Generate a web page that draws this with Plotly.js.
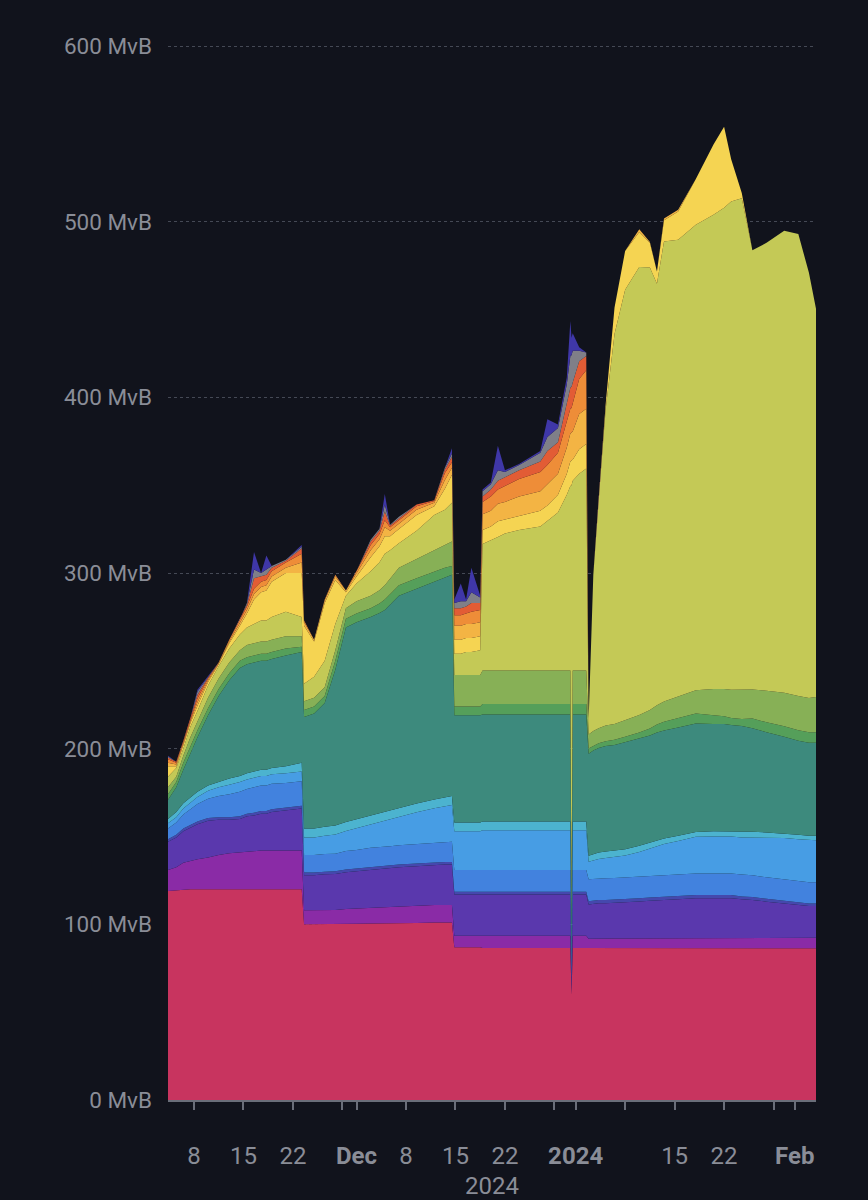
<!DOCTYPE html>
<html>
<head>
<meta charset="utf-8">
<script src="https://cdn.plot.ly/plotly-3.0.1.min.js"></script>
<style>
  html, body { margin: 0; padding: 0; background: #11131c; }
  #chart { width: 868px; height: 1200px; }
</style>
</head>
<body>
<div id="chart"></div>
<script>
// Sample times (mempool snapshots)
const dates = [
  '2023-11-04 08:00','2023-11-05 12:00','2023-11-06 12:00','2023-11-07 12:00','2023-11-08 12:00',
  '2023-11-10 00:00','2023-11-11 12:00','2023-11-13 00:00','2023-11-14 12:00','2023-11-15 12:00',
  '2023-11-16 12:00','2023-11-17 12:00','2023-11-18 06:00','2023-11-19 00:00','2023-11-21 00:00',
  '2023-11-23 06:00',
  '2023-11-23 14:00','2023-11-25 00:00','2023-11-26 12:00','2023-11-28 00:00','2023-11-29 12:00',
  '2023-12-01 00:00','2023-12-03 00:00','2023-12-04 06:00','2023-12-05 00:00','2023-12-05 18:00',
  '2023-12-07 00:00','2023-12-09 12:00','2023-12-12 00:00','2023-12-13 12:00','2023-12-14 12:00',
  '2023-12-14 20:00','2023-12-15 18:00','2023-12-16 12:00','2023-12-17 06:00','2023-12-18 12:00',
  '2023-12-18 20:00','2023-12-20 00:00','2023-12-21 00:00','2023-12-22 00:00','2023-12-24 00:00',
  '2023-12-27 00:00','2023-12-28 00:00','2023-12-29 12:00','2023-12-30 18:00','2023-12-31 06:00',
  '2023-12-31 10:00','2023-12-31 14:00','2024-01-01 12:00','2024-01-02 12:00',
  '2024-01-02 20:00','2024-01-03 12:00','2024-01-04 06:00','2024-01-05 06:00','2024-01-06 12:00',
  '2024-01-08 00:00','2024-01-10 00:00','2024-01-11 12:00','2024-01-12 12:00','2024-01-13 12:00',
  '2024-01-15 12:00','2024-01-18 00:00','2024-01-20 12:00','2024-01-22 00:00','2024-01-23 00:00',
  '2024-01-24 12:00','2024-01-26 00:00','2024-01-28 00:00','2024-01-30 12:00','2024-02-01 12:00',
  '2024-02-03 00:00','2024-02-04 00:00'
];

// Layer sizes in MvB, bottom fee band to top fee band
const crimson = [
  119,119.5,120,120,120,120,120,120,120,120,120,120,120,120,120,120,
  100,100,100,100,100.2,100.3,100.5,100.5,100.6,100.6,100.7,100.8,101,101,101,
  87,87,87,87,87,
  86.5,86.5,86.5,86.5,86.5,86.5,86.5,86.5,86.5,86.5,60,86.5,86.5,86.5,
  86.3,86.3,86.3,86.3,86.3,86.3,86.3,86.3,86.3,86.3,86.3,86.3,86.3,86.3,86.3,86.4,86.4,86.4,86.4,86.4,86.4,86.4
];
const magenta = [
  12,13,15,16,17,18,19.5,20.5,21,21.5,22,22,22,22,22,22,
  8,8,8,8.2,8.5,8.7,9,9.1,9.2,9.3,9.5,9.7,10,10,10,
  6.5,6.5,6.5,6.5,6.5,
  7,7,7,7,7,7,7,7,7,7,3,7,7,7,
  5.5,5.6,5.7,5.7,5.7,5.7,5.7,5.7,5.7,5.7,5.7,5.7,5.8,5.8,5.8,5.9,6,6,6,6,6,6
];
const deepPurple = [
  16,17,18,19,20,21,20,19,19,20,20,21,21,22,23,24,
  20,20,20.5,20.5,21,21.3,21.8,21.9,22,22.1,22.3,22.6,22.8,23,23,
  23.5,23.5,23.5,23.5,23.5,
  23.5,23.5,23.5,23.5,23.5,23.5,23.5,23.5,23.5,23.5,6,23.5,23.5,23.5,
  19.5,19.7,20,20,20.2,20.5,21,21.5,21.8,22,22.3,22.8,22.8,22.8,22.8,22,21.5,20.5,19.5,18.5,18,18
];
const indigo = [
  1.5,1.5,1.5,1.5,1.5,1.5,1.5,1.5,1.5,1.5,1.5,1.5,1.5,1.5,1.5,1.5,
  1.5,1.5,1.5,1.5,1.5,1.5,1.5,1.5,1.5,1.5,1.5,1.5,1.5,1.5,1.5,
  1.5,1.5,1.5,1.5,1.5,
  1.5,1.5,1.5,1.5,1.5,1.5,1.5,1.5,1.5,1.5,1,1.5,1.5,1.5,
  1.8,1.8,1.8,1.8,1.8,1.8,1.8,1.8,1.8,1.8,1.9,1.9,1.8,1.8,1.8,1.6,1.6,1.6,1.5,1.5,1.5,1.5
];
const blue = [
  6,7,8,9,10,11,12,13,14,14,14.5,14.5,14.5,14.5,14,14,
  10,10,10,10,10.5,10.5,10.8,10.9,11,11,11,11.2,11.3,11.4,11.5,
  12.5,12.5,12.5,12.5,12.5,
  12.5,12.5,12.5,12.5,12.5,12.5,12.5,12.5,12.5,12.5,4,12.5,12.5,12.5,
  12.5,12.4,12.4,12.4,12.4,12.4,12.4,12.4,12.4,12.4,12.3,12.3,12.3,12.3,12.3,12.5,12.4,12.3,12.2,12,12,12
];
const lightBlue = [
  3,3,3.5,4,4,4.5,5,5.5,5.5,5.5,5.5,5.5,5.5,5.5,5.5,5.5,
  10,10,10.5,11,11.5,12.5,13.5,14.3,15,15.5,16.5,18,19.5,20.5,21,
  22,22,22,22,22,
  22.5,22.5,22.5,22.5,22.5,22.5,22.5,22.5,22.5,22.5,6,22.5,22.5,22.5,
  10,10.5,11,11.5,12,12.5,14,15.5,16.5,17.5,19,20.8,21,21,21,21,21.5,22.5,23.5,24,24,24
];
const cyan = [
  2.5,3,3,3,3,3,3,3.5,3.5,3.5,3.5,3.5,3.5,3.5,4,5,
  5,5,5,5,5,5,5,5,5,5,5,5,5,5,5,
  5,5,5,5,5,
  5,5,5,5,5,5,5,5,5,5,3,5,5,5,
  3.5,3.6,3.7,3.8,3.7,3.6,3.5,3.3,3.2,3.1,3,2.8,3,3,3,3.5,3.3,3,2.7,2.6,2.5,2.5
];
const teal = [
  11,14,19,25,31,40,49,56,61.5,62,62,62,62,62,63,63,
  63.5,65.5,70.5,88.8,110.8,112.2,112.9,114,114.7,117,120.5,122.2,123.9,124.6,126,
  61,61,61,61,61,
  61,61,61,61,61,61,61,61,61,61,20,61,61,61,
  58,59,59.5,60,60,61,61,61,61.5,61.5,61.5,61.7,61,61,60.5,60,59,57,55,53.5,53,53
];
const green = [
  3,3,4,4,4,4,4,4,4,4,4,4,4,4,4,3,
  4,4,4,5,5,5,5,5.5,6,6,6,6,6,6,5,
  5,5,5,5,5,
  6,6,6,6,6,6,6,6,6,6,2,6,6,6,
  3,2.8,2.7,2.7,3,3,3.5,4,4.5,5,5.3,5.7,5,4.5,4,4,5.5,5.7,6,6,6,6
];
const lightGreen = [
  4,3,4,5,5,6,6,6,6,7,7,7,7,7,7,6,
  5,5,5,6,6,7,7,7.5,8,9,10,11,12,13,14,
  18,18,18,18,18,
  19,19,19,19,19,19,19,19,19,19,5,19,19,19,
  8,8.3,8.5,9,9,9.5,10,10.5,11,11.5,12.5,13.3,15,15.5,16,16.5,16.5,18,19,19.5,19.5,20
];
const lime = [
  6,5,4,6,6,7,7,8,9,10,11,12,12,13,14,11,
  10,12,15,15,7,10,14,16,18,16,14,16,20,20,22,
  12,12,13,13,14,
  72,74,76,78,80,82,85,90,100,105,240,108,112,115,
  8,89,130,180,222,245,255,252,240,262,260,265,270,274,278,280,250,255,263,263,242,221
];
const yellow = [
  6,1,2,2,3,2,1,3,5,8,14,16,17,20,22,25,
  33,20,33,25,2,4,8,9,10,8,8,9,5,12,16,
  8,8,8,8,8,
  8,8,9,8,8,9,9,10,12,14,14,12,14,14,
  0,0,0,3,15,22,20,14,7,12,16,26,40,46,24,3,0,0,0,0,0,0
];
const amber = [
  2,1,1,1,2,1,0.5,1,1.5,2,3,3,3,3,3,6,
  2,1,1.5,2,1,2,4,4,5,3,3,3,2,5,4,
  8,8,8,8,8,
  9,9,10,10,11,11,12,12,15,16,16,16,20,20,
  0,0,0,0,0,0,1.5,0.5,0,1,1,0,0,0,0,0,0,0,0,0,0,0
];
const orange = [
  2,1,1,1,2,1,0.5,1,1.5,2,3,3,3,3,3,5,
  1,0,0.5,1,0,1,3,3,4,2,2,2,1,4,3,
  6,6,6,7,7,
  7,8,8,9,10,11,11,12,14,14,14,16,20,22,
  0,0,0,0,0,0,0,0,0,0,0,0,0,0,0,0,0,0,0,0,0,0
];
const deepOrange = [
  1,0.5,0.5,0.5,2,0.5,0,0,0.5,1,6,3,3,2,1,3,
  0,0,0,0,0,0,2,2,5,1,1,1,0.5,2,3,
  4,4,4,5,4,
  3,4,5,5,5,6,8,6,10,12,12,12,10,8,
  0,0,0,0,0,0,0,0,0,0,0,0,0,0,0,0,0,0,0,0,0,0
];
const gray = [
  0.5,0,0,0.5,2,0.5,0,0,0,1,5,2,3,1,0.5,1,
  0,0,0,0,0,0,1,1,4,0.5,1,0,0,1,2,
  3,4,3,6,3,
  3,3,6,3,3,5,8,8,12,18,18,18,6,2,
  0,0,0,0,0,0,0,0,0,0,0,0,0,0,0,0,0,0,0,0,0,0
];
const topBlue = [
  0.5,0,0,0,1,0,0,0,0,0,10,0,8,0,0,1,
  0,0,0,0,0,0,0,0,6,0,0,0,0,0,3,
  2,10,1,14,1,
  1,1,14,1,0.5,1,10,2,4,20,10,10,2,0,
  0,0,0,0,0,0,0,0,0,0,0,0,0,0,0,0,0,0,0,0,0,0
];

const yTickVals = [0, 100, 200, 300, 400, 500, 600];
const yTickText = ['0 MvB', '100 MvB', '200 MvB', '300 MvB', '400 MvB', '500 MvB', '600 MvB'];

const layers = [
  {name: 'crimson', y: crimson, color: '#c8345f'},
  {name: 'magenta', y: magenta, color: '#8a2ba6'},
  {name: 'deepPurple', y: deepPurple, color: '#5a38ad'},
  {name: 'indigo', y: indigo, color: '#4548ad'},
  {name: 'blue', y: blue, color: '#4282de'},
  {name: 'lightBlue', y: lightBlue, color: '#479de4'},
  {name: 'cyan', y: cyan, color: '#4cb3cf'},
  {name: 'teal', y: teal, color: '#3d8a7d'},
  {name: 'green', y: green, color: '#559f5a'},
  {name: 'lightGreen', y: lightGreen, color: '#87b056'},
  {name: 'lime', y: lime, color: '#c4c956'},
  {name: 'yellow', y: yellow, color: '#f5d452'},
  {name: 'amber', y: amber, color: '#f3b444'},
  {name: 'orange', y: orange, color: '#ee8d38'},
  {name: 'deepOrange', y: deepOrange, color: '#e25c35'},
  {name: 'gray', y: gray, color: '#7f7f88'},
  {name: 'topBlue', y: topBlue, color: '#3f37a8'}
];

const traces = layers.map(l => ({
  type: 'scatter',
  mode: 'lines',
  x: dates,
  y: l.y,
  name: l.name,
  stackgroup: 'mempool',
  line: {width: 0, color: l.color},
  fillcolor: l.color,
  hoverinfo: 'skip'
}));

const tickVals = ['2023-11-08','2023-11-15','2023-11-22','2023-11-29','2023-12-01','2023-12-08',
  '2023-12-15','2023-12-22','2023-12-29','2024-01-01','2024-01-08','2024-01-15','2024-01-22',
  '2024-01-29','2024-02-01'];
const tickText = ['8','15','22','','<b>Dec</b>','8','15','22','','<b>2024</b>','','15','22','','<b>Feb</b>'];

const gridCol = '#454955';
const textCol = '#8a8d97';

const layout = {
  width: 868,
  height: 1200,
  paper_bgcolor: '#11131c',
  plot_bgcolor: '#11131c',
  showlegend: false,
  margin: {l: 168, r: 52, t: 45, b: 100},
  font: {family: 'Roboto, "Open Sans", sans-serif', color: textCol},
  xaxis: {
    type: 'date',
    range: ['2023-11-04 08:00', '2024-02-04 00:00'],
    tickvals: tickVals,
    ticktext: tickText,
    ticks: 'outside',
    ticklen: 8,
    tickwidth: 2,
    tickcolor: '#6a6e79',
    showline: true,
    linecolor: '#6a6e79',
    linewidth: 2,
    showgrid: false,
    zeroline: false,
    tickfont: {size: 24, color: textCol, family: 'Roboto, sans-serif'},
    ticklabelstandoff: 25,
    title: {text: '2024', font: {size: 24, color: textCol, family: 'Roboto, sans-serif'}, standoff: 10}
  },
  yaxis: {
    range: [0, 600.6],
    tickvals: yTickVals,
    ticktext: yTickText,
    showgrid: true,
    gridcolor: gridCol,
    griddash: 'dot',
    gridwidth: 1,
    zeroline: false,
    showline: false,
    ticks: '',
    tickfont: {size: 22.5, color: textCol, family: 'Roboto, sans-serif'},
    ticklabelstandoff: 15
  }
};

Plotly.newPlot('chart', traces, layout, {displayModeBar: false, staticPlot: true});
</script>
</body>
</html>
